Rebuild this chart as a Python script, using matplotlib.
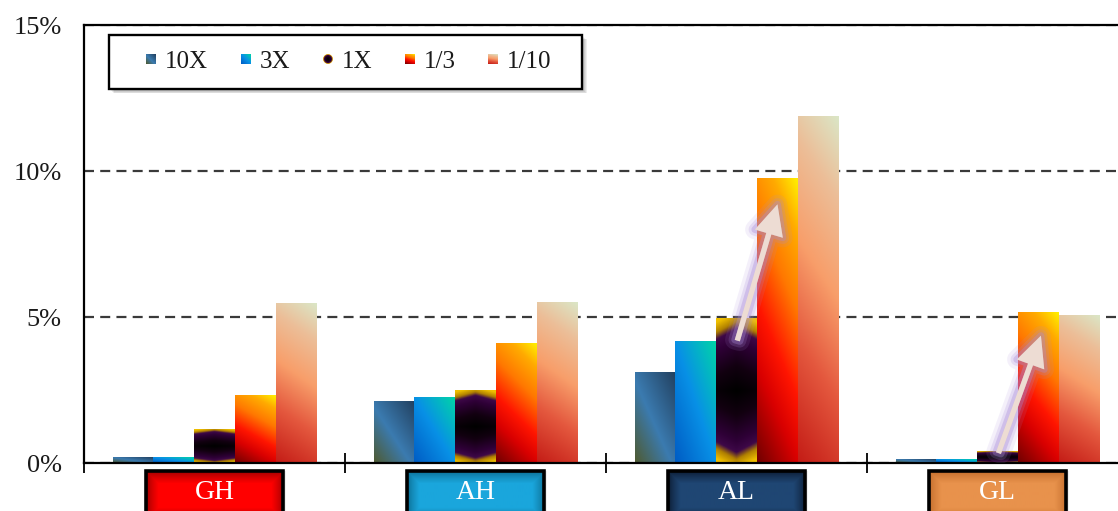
import numpy as np
import matplotlib
matplotlib.use("Agg")
import matplotlib.pyplot as plt
import matplotlib.patheffects as pe
from matplotlib.colors import to_rgb
from matplotlib.patches import Rectangle, FancyArrowPatch, Patch
from matplotlib.image import BboxImage
from matplotlib.transforms import Bbox, TransformedBbox

plt.rcParams['font.family'] = ['Liberation Serif', 'DejaVu Serif']

# Data (percent)
groups = ['GH', 'AH', 'AL', 'GL']
series = ['10X', '3X', '1X', '1/3', '1/10']
v_10x = [0.2, 2.1, 3.1, 0.13]
v_3x = [0.2, 2.25, 4.15, 0.12]
v_1x = [1.15, 2.5, 4.95, 0.4]
v_1_3 = [2.3, 4.1, 9.75, 5.15]
v_1_10 = [5.45, 5.5, 11.85, 5.05]
y_ticks = [0, 5, 10, 15]

# category label box colours (centre, edge)
box_colors = ['#ff0000', '#1aa6dc', '#1f4673', '#e8924c']
box_edges = ['#980000', '#0b6a8e', '#0b1a30', '#c06a2a']

# arrows: (start) -> (end), data units
arrow_from = [(2.0, 4.1), (3.0, 0.25)]
arrow_to = [(2.16, 8.95), (3.17, 4.45)]


def ramp(stops, t):
    pos = [s[0] for s in stops]
    cols = np.array([to_rgb(s[1]) for s in stops])
    return np.stack([np.interp(t, pos, cols[:, c]) for c in range(3)], axis=-1)


def grad_10x(u, v):
    return ramp([(0, '#4f5a30'), (0.45, '#3b7bb0'), (1, '#22405f')], (u + v) / 2)


def grad_3x(u, v):
    return ramp([(0, '#005cc4'), (0.5, '#0890e6'), (1, '#00d4a8')], (u + v) / 2)


def grad_1x(u, v):
    r = np.abs(2 * v - 1) + 0.15 * np.abs(2 * u - 1)
    return ramp([(0, '#000000'), (0.35, '#120010'), (0.7, '#2e0036'), (0.86, '#3e0848'),
                 (0.96, '#b08000'), (1.1, '#f0c000')], r)


def grad_1x_dot(u, v):
    r = np.hypot(2 * u - 1, 2 * v - 1)
    return ramp([(0, '#000000'), (0.5, '#1a0018'), (0.75, '#3a0040'), (0.95, '#c89000'), (1.2, '#f2c200')], r)


def grad_1_3(u, v):
    return ramp([(0, '#700000'), (0.25, '#d80000'), (0.42, '#ff1500'), (0.65, '#ff7800'),
                 (0.85, '#ffaa00'), (1, '#fff000')], 0.25 * u + 0.75 * v)


def grad_1_10(u, v):
    return ramp([(0, '#c41c16'), (0.3, '#e4583e'), (0.55, '#f89e6a'), (0.8, '#ecbe98'),
                 (1, '#dbe6c6')], 0.15 * u + 0.85 * v)


class GradHandler:
    def __init__(self, func, round_=False):
        self.func = func
        self.round_ = round_

    def legend_artist(self, legend, orig_handle, fontsize, handlebox):
        s = handlebox.width
        x0 = -handlebox.xdescent
        y0 = -handlebox.ydescent + (handlebox.height - s) / 2
        uu, vv = np.meshgrid(np.linspace(0, 1, 24), np.linspace(0, 1, 24))
        rgb = self.func(uu, vv)
        if self.round_:
            r = np.hypot(2 * uu - 1, 2 * vv - 1)
            rgb = np.dstack([rgb, np.clip((1.08 - r) * 8, 0, 1)])
        im = BboxImage(TransformedBbox(Bbox.from_bounds(x0, y0, s, s), handlebox.get_transform()),
                       interpolation='bilinear', origin='lower')
        im.set_data(rgb)
        handlebox.add_artist(im)
        return im


fig = plt.figure(figsize=(11.18, 5.11), dpi=100)
ax = fig.add_axes([84 / 1118, 48 / 511, 1044 / 1118, 438 / 511])

x = np.arange(len(groups))
width = 0.156
values = [v_10x, v_3x, v_1x, v_1_3, v_1_10]
grads = [grad_10x, grad_3x, grad_1x, grad_1_3, grad_1_10]

U, V = np.meshgrid(np.linspace(0, 1, 48), np.linspace(0, 1, 120))
for k, (vals, g) in enumerate(zip(values, grads)):
    bars = ax.bar(x + (k - 2) * width, vals, width, color='none', edgecolor='none', zorder=2)
    for b in bars:
        x0, y0 = b.get_x(), b.get_y()
        ax.imshow(g(U, V), extent=(x0, x0 + b.get_width(), y0, y0 + b.get_height()),
                  origin='lower', aspect='auto', interpolation='bilinear', zorder=2)

# arrows
for (xa, ya), (xb, yb) in zip(arrow_from, arrow_to):
    arr = FancyArrowPatch((xa, ya), (xb, yb), arrowstyle='simple,head_length=22,head_width=21,tail_width=3.8',
                          mutation_scale=1, fc='#eddcd3', ec='none', zorder=4,
                          path_effects=[pe.Stroke(linewidth=14, foreground='#a88ad8', alpha=0.12),
                                        pe.Stroke(linewidth=9, foreground='#a88ad8', alpha=0.2),
                                        pe.Stroke(linewidth=5, foreground='#a88ad8', alpha=0.35),
                                        pe.Normal()])
    ax.add_patch(arr)

# axes styling
ax.set_xlim(-0.5, 3.5)
ax.set_ylim(0, 15)
ax.set_yticks(y_ticks)
ax.set_yticklabels([f'{t}%' for t in y_ticks])
ax.tick_params(axis='y', length=0, pad=16, labelsize=19, labelcolor='#1a1a1a')
ax.set_xticks(np.arange(-0.5, 4, 1))
ax.set_xticklabels([])
ax.tick_params(axis='x', direction='inout', length=14, width=1.3, color='black')
ax.grid(axis='y', linestyle=(0, (4.5, 2.8)), color='#3a3a3a', linewidth=1.6)
ax.set_axisbelow(True)
ax.spines['right'].set_visible(False)
for s in ['left', 'top', 'bottom']:
    ax.spines[s].set_linewidth(1.6)
    ax.spines[s].set_color('black')

# category label boxes below the axis
bw, y_top, y_bot = 0.525, -0.274, -1.95
ny, nx = 49, 137
yy, xx = np.mgrid[0:ny, 0:nx]
d = np.minimum(np.minimum(xx, nx - 1 - xx), np.minimum(yy, ny - 1 - yy))
t = np.clip(d / 12.0, 0, 1) ** 0.7
for xi, name, c, e in zip(x, groups, box_colors, box_edges):
    c1, e1 = np.array(to_rgb(c)), np.array(to_rgb(e))
    img = e1 + (c1 - e1) * t[..., None]
    for off in range(1, 4):
        sh = Rectangle((xi - bw / 2 + 0.004 * off, y_bot), bw, y_top - y_bot, fc='#000000',
                       ec='none', alpha=0.06, clip_on=False, zorder=2)
        ax.add_patch(sh)
    im = ax.imshow(img, extent=(xi - bw / 2, xi + bw / 2, y_bot, y_top), origin='lower',
                   aspect='auto', interpolation='bilinear', zorder=3)
    im.set_clip_on(False)
    ax.add_patch(Rectangle((xi - bw / 2, y_bot), bw, y_top - y_bot, fc='none', ec='black',
                           lw=2.6, clip_on=False, zorder=4))
    ax.text(xi, -1.01, name, color='white', fontsize=20, ha='center', va='center',
            clip_on=False, zorder=5)

ax.set_xlim(-0.5, 3.5)
ax.set_ylim(0, 15)

# legend frame with shadow
fx, fy, fw, fh = 25 / 1044, (463 - 89) / 438, 473 / 1044, 54 / 438
for off in range(1, 6):
    ax.add_patch(Rectangle((fx + off * 0.0009, fy - off * 0.002), fw, fh, transform=ax.transAxes,
                           fc='#000000', ec='none', alpha=0.07, zorder=5))
ax.add_patch(Rectangle((fx, fy), fw, fh, transform=ax.transAxes, fc='white', ec='black',
                       lw=1.7, zorder=6))

handles = [Patch() for _ in series]
hmap = {handles[0]: GradHandler(grad_10x), handles[1]: GradHandler(grad_3x),
        handles[2]: GradHandler(grad_1x_dot, round_=True), handles[3]: GradHandler(grad_1_3),
        handles[4]: GradHandler(grad_1_10)}
leg = ax.legend(handles, series, handler_map=hmap, ncol=5, frameon=False, loc='center left',
                bbox_to_anchor=(62 / 1044, (463 - 62) / 438), borderpad=0, borderaxespad=0,
                handlelength=0.38, handletextpad=0.38, columnspacing=1.3, fontsize=18)
leg.set_zorder(7)
for txt in leg.get_texts():
    txt.set_color('#1a1a1a')

plt.savefig('out.png', dpi=100)
